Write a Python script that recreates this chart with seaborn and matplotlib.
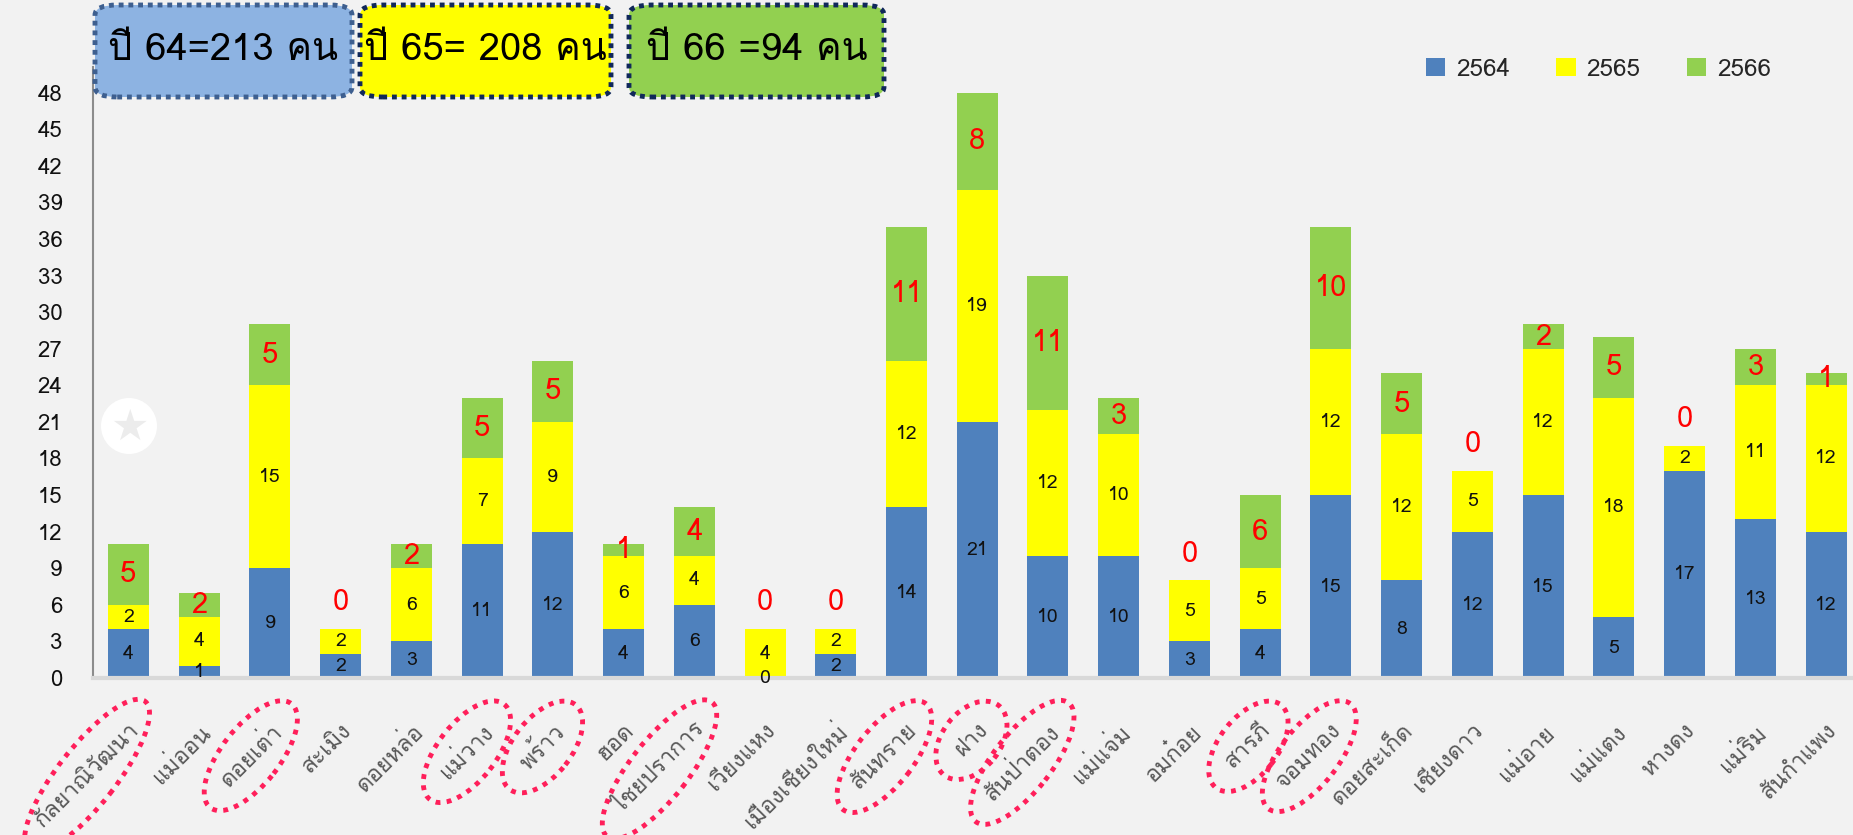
import matplotlib
matplotlib.use("Agg")
import matplotlib.pyplot as plt
import matplotlib.transforms as mtransforms
import seaborn as sns
import pandas as pd
from matplotlib.patches import FancyBboxPatch, Ellipse, Patch

districts = ["กัลยาณิวัฒนา", "แม่ออน", "ดอยเต่า", "สะเมิง", "ดอยหล่อ", "แม่วาง", "พร้าว",
             "ฮอด", "ไชยปราการ", "เวียงแหง", "เมืองเชียงใหม่", "สันทราย", "ฝาง",
             "สันป่าตอง", "แม่แจ่ม", "อมก๋อย", "สารภี", "จอมทอง", "ดอยสะเก็ด",
             "เชียงดาว", "แม่อาย", "แม่แตง", "หางดง", "แม่ริม", "สันกำแพง"]
y2564 = [4, 1, 9, 2, 3, 11, 12, 4, 6, 0, 2, 14, 21, 10, 10, 3, 4, 15, 8, 12, 15, 5, 17, 13, 12]
y2565 = [2, 4, 15, 2, 6, 7, 9, 6, 4, 4, 2, 12, 19, 12, 10, 5, 5, 12, 12, 5, 12, 18, 2, 11, 12]
y2566 = [5, 2, 5, 0, 2, 5, 5, 1, 4, 0, 0, 11, 8, 11, 3, 0, 6, 10, 5, 0, 2, 5, 0, 3, 1]
circled = ["กัลยาณิวัฒนา", "ดอยเต่า", "แม่วาง", "พร้าว", "ไชยปราการ", "สันทราย", "ฝาง",
           "สันป่าตอง", "สารภี", "จอมทอง"]
series_names = ["2564", "2565", "2566"]
box_texts = ["ปี 64=213 คน", "ปี 65= 208 คน", "ปี 66 =94 คน"]
yticks = list(range(0, 49, 3))

C_BLUE, C_YEL, C_GRN = "#4F81BD", "#FFFF00", "#92D050"
BG = "#F2F2F2"

sns.set_theme(style="white")
FONTS = ["Loma", "Noto Sans Thai Looped", "DejaVu Sans"]
plt.rcParams["font.family"] = FONTS

df = pd.DataFrame({"district": districts, "b": y2564, "y": y2565, "g": y2566})
df["by"] = df["b"] + df["y"]
df["tot"] = df["by"] + df["g"]

fig = plt.figure(figsize=(18.53, 8.35), dpi=100, facecolor=BG)
ax = fig.add_axes([93 / 1853, 1 - 678 / 835, 1 - 93 / 1853, (678 - 67) / 835])
ax.set_facecolor(BG)

W = 0.58
sns.barplot(data=df, x="district", y="tot", color=C_GRN, width=W, saturation=1, linewidth=0, ax=ax)
sns.barplot(data=df, x="district", y="by", color=C_YEL, width=W, saturation=1, linewidth=0, ax=ax)
sns.barplot(data=df, x="district", y="b", color=C_BLUE, width=W, saturation=1, linewidth=0, ax=ax)

ax.set_ylim(0, 50.1)
ax.set_xlim(-0.5, 24.38)
ax.set_yticks(yticks)
ax.set_xlabel("")
ax.set_ylabel("")
ax.tick_params(axis="y", length=0, pad=22, labelsize=16, labelcolor="#111111")
ax.tick_params(axis="x", length=0, pad=30)
ax.set_xticks(range(len(districts)))
ax.set_xticklabels(districts, rotation=45, ha="right", va="top", rotation_mode="anchor",
                   fontsize=16.5, color="#595959")
shift = mtransforms.ScaledTranslation(0 / 100, 0, fig.dpi_scale_trans)
for lab in ax.get_xticklabels():
    lab.set_transform(lab.get_transform() + shift)
for s in ["top", "right"]:
    ax.spines[s].set_visible(False)
ax.spines["left"].set_color("#8c8c8c")
ax.spines["left"].set_linewidth(1.5)
ax.spines["bottom"].set_color("#d9d9d9")
ax.spines["bottom"].set_linewidth(3)

for i, r in df.iterrows():
    ax.text(i, r["b"] / 2, str(r["b"]), ha="center", va="center", fontsize=14, color="#111111")
    ax.text(i, r["b"] + r["y"] / 2, str(r["y"]), ha="center", va="center", fontsize=14, color="#111111")
    if r["g"] == 0:
        ax.text(i, r["tot"] + 2.2, "0", ha="center", va="center", fontsize=21, color="#FF0000")
    else:
        ax.text(i, r["by"] + r["g"] / 2, str(r["g"]), ha="center", va="center", fontsize=21, color="#FF0000")

handles = [Patch(facecolor=c, edgecolor="none") for c in (C_BLUE, C_YEL, C_GRN)]
fig.legend(handles, series_names, loc="center left", bbox_to_anchor=(1404 / 1853, 1 - 69 / 835),
           ncol=3, frameon=False, fontsize=17.5, handlelength=0.8, handleheight=0.8,
           columnspacing=1.9, handletextpad=0.45)

boxes = [(95, 352, "#8DB3E2", "#3E5F8F"), (360, 611, C_YEL, "#10285A"), (629, 884, C_GRN, "#10285A")]
for (x0, x1, fc, ec), txt in zip(boxes, box_texts):
    y0, y1 = 835 - 97, 835 - 5
    p = FancyBboxPatch((x0 / 1853, y0 / 835), (x1 - x0) / 1853, (y1 - y0) / 835,
                       boxstyle="round,pad=0,rounding_size=0.012", transform=fig.transFigure,
                       facecolor=fc, edgecolor=ec, linewidth=3.5, linestyle=(0, (1, 1)))
    fig.add_artist(p)
    fig.text((x0 + x1) / 2 / 1853, (y0 + y1) / 2 / 835, txt, ha="center", va="center",
             fontsize=27.5, color="black")

# star badge
fig.add_artist(Ellipse((129 / 1853, 1 - 426 / 835), 56 / 1853, 56 / 835,
                       transform=fig.transFigure, facecolor="white", edgecolor="none"))
fig.text(129 / 1853, 1 - 428 / 835, "★", ha="center", va="center", fontsize=31,
         color="#ececec", family="DejaVu Sans")

fig.canvas.draw()
rend = fig.canvas.get_renderer()
for lab in ax.get_xticklabels():
    if lab.get_text() in circled:
        bb = lab.get_window_extent(rend)
        cx, cy = (bb.x0 + bb.x1) / 2, (bb.y0 + bb.y1) / 2
        diag = ((bb.width) ** 2 + (bb.height) ** 2) ** 0.5
        e = Ellipse((cx, cy), diag + 30, 58, angle=52, transform=None,
                    facecolor="none", edgecolor="#FF1F5A", linewidth=3.5, linestyle=(0, (1, 1.3)))
        fig.add_artist(e)

fig.savefig("out.png", dpi=100, facecolor=BG)
